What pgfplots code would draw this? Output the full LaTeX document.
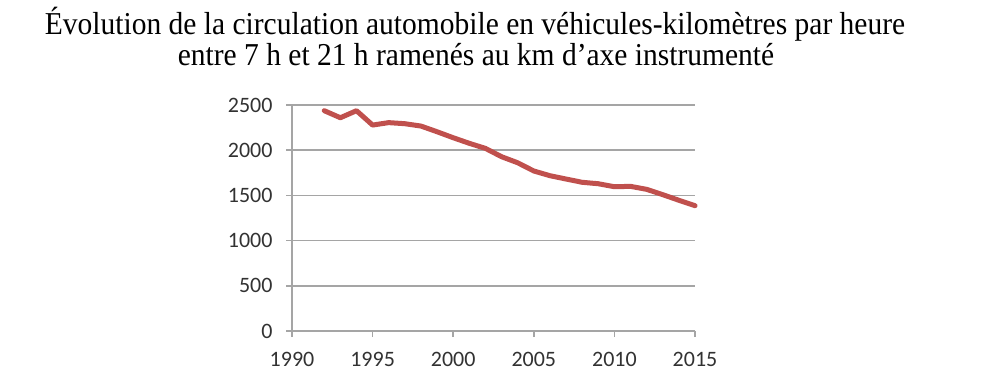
\documentclass[border=0pt]{standalone}
\usepackage{fontspec}
\setmainfont{Liberation Serif}
\newfontfamily\tickfont{Carlito}
\usepackage{pgfplots}
\pgfplotsset{compat=1.18}
\definecolor{linered}{RGB}{192,80,77}
\definecolor{gridgray}{RGB}{165,165,165}
\definecolor{ticktext}{RGB}{50,50,50}
\begin{document}
\begin{tikzpicture}[x=1pt,y=1pt]
\useasboundingbox (0,0) rectangle (1000,385);
\node[anchor=base,inner sep=0pt] at (475,350) {\scalebox{1}[1.08]{\fontsize{29.5}{32}\selectfont Évolution de la circulation automobile en véhicules-kilomètres par heure}};
\node[anchor=base,inner sep=0pt] at (476,319) {\scalebox{1}[1.08]{\fontsize{29.5}{32}\selectfont entre 7 h et 21 h ramenés au km d’axe instrumenté}};
\begin{axis}[
  at={(292pt,54pt)}, anchor=south west,
  scale only axis, width=403pt, height=226pt,
  xmin=1990, xmax=2015, ymin=0, ymax=2500,
  xtick={1990,1995,...,2015}, ytick={0,500,...,2500},
  axis x line=bottom, axis y line=left,
  axis line style={draw=gridgray, line width=1.5pt, -},
  tick style={draw=gridgray, line width=1.5pt},
  tick align=outside, major tick length=6pt,
  ymajorgrids, grid style={draw=gridgray, line width=1.5pt},
  /pgf/number format/assume math mode=true,
  /pgf/number format/1000 sep={},
  ticklabel style={font=\tickfont\fontsize{22}{26}\selectfont, text=ticktext},
  yticklabel style={xshift=-10pt},
  xticklabel style={yshift=-12pt},
  clip=false,
]
\addplot[linered, line width=5pt, line join=round, line cap=round] coordinates {
(1992,2437) (1993,2359) (1994,2437) (1995,2278) (1996,2305) (1997,2293)
(1998,2267) (1999,2204) (2000,2138) (2001,2076) (2002,2020) (2003,1928)
(2004,1861) (2005,1770) (2006,1718) (2007,1681) (2008,1645) (2009,1629)
(2010,1596) (2011,1600) (2012,1567) (2013,1508) (2014,1446) (2015,1386)
};
\end{axis}
\end{tikzpicture}
\end{document}
